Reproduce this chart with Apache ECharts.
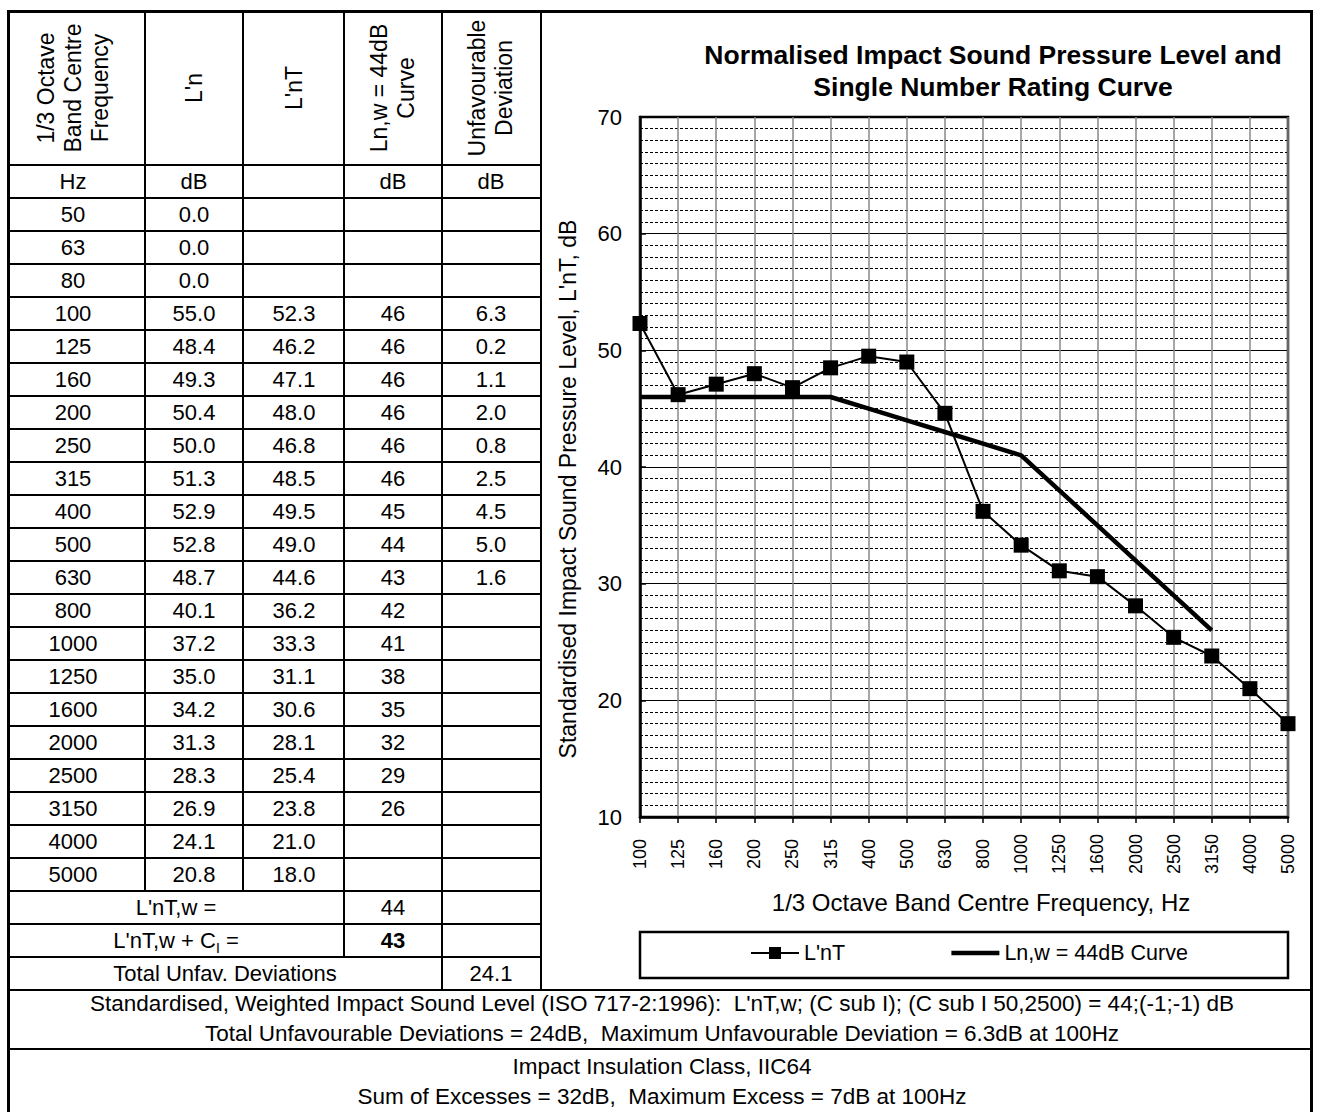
<!DOCTYPE html>
<html>
<head>
<meta charset="utf-8">
<script src="https://cdn.jsdelivr.net/npm/echarts@6/dist/echarts.min.js"></script>
<style>
  html,body{margin:0;padding:0;background:#fff;}
  #page{position:relative;width:1320px;height:1112px;overflow:hidden;background:#fff;font-family:'Liberation Sans',Arial,sans-serif;color:#000;}
  #chart{position:absolute;left:541px;top:11px;width:770px;height:979px;}
  .ln{position:absolute;background:#000;}
  .tx{position:absolute;white-space:pre;font-size:22px;line-height:24px;transform:translate(-50%,-50%);text-align:center;}
  .ft{position:absolute;white-space:pre;font-size:22.5px;line-height:24px;transform:translate(-50%,-50%);text-align:center;}
  .rot{position:absolute;white-space:pre;font-size:23px;line-height:27px;text-align:center;transform:translate(-50%,-50%) rotate(-90deg);}
</style>
</head>
<body>
<div id="page">
  <div id="chart"></div>
</div>
<script>
// ---------------- DATA ----------------
const freqLabels = ['50','63','80','100','125','160','200','250','315','400','500','630','800','1000','1250','1600','2000','2500','3150','4000','5000'];
const lnValues = [0.0,0.0,0.0,55.0,48.4,49.3,50.4,50.0,51.3,52.9,52.8,48.7,40.1,37.2,35.0,34.2,31.3,28.3,26.9,24.1,20.8];
const lntValues = [null,null,null,52.3,46.2,47.1,48.0,46.8,48.5,49.5,49.0,44.6,36.2,33.3,31.1,30.6,28.1,25.4,23.8,21.0,18.0];
const curveValues = [null,null,null,46,46,46,46,46,46,45,44,43,42,41,38,35,32,29,26,null,null];
const deviationValues = [null,null,null,6.3,0.2,1.1,2.0,0.8,2.5,4.5,5.0,1.6,null,null,null,null,null,null,null,null,null];
const headerLabels = ['1/3 Octave\nBand Centre\nFrequency', "L'n", "L'nT", 'Ln,w = 44dB\nCurve', 'Unfavourable\nDeviation'];
const unitLabels = ['Hz','dB','','dB','dB'];
const ratingLnTw = 44;
const ratingLnTwCI = 43;
const totalUnfav = 24.1;
const seriesNames = ["L'nT", 'Ln,w = 44dB Curve'];
const yTicks = [10,20,30,40,50,60,70];
const chartTitle = 'Normalised Impact Sound Pressure Level and\nSingle Number Rating Curve';
const xAxisTitle = '1/3 Octave Band Centre Frequency, Hz';
const yAxisTitle = "Standardised Impact Sound Pressure Level, L'nT, dB";
const footerLines = [
  "Standardised, Weighted Impact Sound Level (ISO 717-2:1996):  L'nT,w; (C sub I); (C sub I 50,2500) = 44;(-1;-1) dB",
  'Total Unfavourable Deviations = 24dB,  Maximum Unfavourable Deviation = 6.3dB at 100Hz',
  'Impact Insulation Class, IIC64',
  'Sum of Excesses = 32dB,  Maximum Excess = 7dB at 100Hz'
];

// ---------------- TABLE (HTML) ----------------
const page = document.getElementById('page');
function hline(x1,x2,y,w){const d=document.createElement('div');d.className='ln';d.style.left=(x1-w/2)+'px';d.style.width=(x2-x1+w)+'px';d.style.top=(y-w/2)+'px';d.style.height=w+'px';page.appendChild(d);}
function vline(x,y1,y2,w){const d=document.createElement('div');d.className='ln';d.style.left=(x-w/2)+'px';d.style.width=w+'px';d.style.top=(y1-w/2)+'px';d.style.height=(y2-y1+w)+'px';page.appendChild(d);}
function txt(s,cx,cy,cls,extra){const d=document.createElement('div');d.className=cls||'tx';d.style.left=cx+'px';d.style.top=cy+'px';if(extra){Object.assign(d.style,extra);}
  if(s instanceof Node){d.appendChild(s);}else{d.textContent=s;} page.appendChild(d);return d;}

const colX = [8,145,243,344,442,541];
const colC = [73,194,294,393,491];
const rightX = 1311, topY = 11, headBot = 165, rowH = 33;
const nData = freqLabels.length;
const rowTop = k => headBot + rowH*k;   // k=0 units row
const endData = rowTop(1+nData);
const endCI = rowTop(3+nData);
const endTot = rowTop(4+nData);         // 990
const footMid = 1049;

for(let k=0;k<=4+nData;k++){ hline(colX[0], colX[5], rowTop(k), 2.5); }
vline(colX[1], topY, endData, 2.5);
vline(colX[2], topY, endData, 2.5);
vline(colX[3], topY, endCI, 2.5);
vline(colX[4], topY, endTot, 2.5);
vline(colX[5], topY, endTot, 2.5);
hline(colX[0], rightX, endTot, 2.5);
hline(colX[0], rightX, footMid, 2.5);
hline(colX[0], rightX, topY, 3);
vline(colX[0], topY, 1130, 3);
vline(rightX, topY, 1130, 3);

headerLabels.forEach((h,i)=>{ txt(h, colC[i], (topY+headBot)/2, 'rot'); });
unitLabels.forEach((u,i)=>{ if(u) txt(u, colC[i], rowTop(0)+rowH/2); });
for(let r=0;r<nData;r++){
  const cy = rowTop(1+r)+rowH/2;
  txt(freqLabels[r], colC[0], cy);
  txt(lnValues[r].toFixed(1), colC[1], cy);
  if(lntValues[r]!==null) txt(lntValues[r].toFixed(1), colC[2], cy);
  if(curveValues[r]!==null) txt(String(curveValues[r]), colC[3], cy);
  if(deviationValues[r]!==null) txt(deviationValues[r].toFixed(1), colC[4], cy);
}
txt("L'nT,w =", (colX[0]+colX[3])/2, rowTop(1+nData)+rowH/2);
txt(String(ratingLnTw), colC[3], rowTop(1+nData)+rowH/2);
const ciSpan = document.createElement('span');
ciSpan.innerHTML = "L'nT,w + C<sub style=\"font-size:14px;vertical-align:-5px;line-height:0\">I</sub> =";
txt(ciSpan, (colX[0]+colX[3])/2, rowTop(2+nData)+rowH/2);
txt(String(ratingLnTwCI), colC[3], rowTop(2+nData)+rowH/2, 'tx', {fontWeight:'bold'});
txt('Total Unfav. Deviations', (colX[0]+colX[4])/2, rowTop(3+nData)+rowH/2);
txt(totalUnfav.toFixed(1), colC[4], rowTop(3+nData)+rowH/2);
const footerY = [1004,1034,1067,1097];
footerLines.forEach((s,i)=>txt(s, 662, footerY[i], 'ft'));

// ---------------- CHART ----------------
const cats = freqLabels.slice(3);
const lntSeries = lntValues.slice(3);
const curveSeries = curveValues.slice(3);
const font = "'Liberation Sans', Arial, sans-serif";

const chart = echarts.init(document.getElementById('chart'), null, {renderer:'svg'});
chart.setOption({
  animation:false,
  backgroundColor:'transparent',
  title:{
    text: chartTitle, left: 452, top: 28, textAlign:'center', padding:0,
    textStyle:{fontFamily:font, fontSize:26.5, fontWeight:'bold', color:'#000', lineHeight:32}
  },
  grid:{left:99, top:106, width:648, height:700, show:true, borderColor:'#000', borderWidth:2.5, backgroundColor:'transparent'},
  legend:{
    data:[
      {name:seriesNames[0]},
      {name:seriesNames[1], itemStyle:{color:'rgba(0,0,0,0)', borderWidth:0}, lineStyle:{color:'#000', width:4.5}}
    ],
    left:209, top:931, padding:0, itemWidth:48, itemHeight:15, itemGap:104,
    textStyle:{fontFamily:font, fontSize:21.5, color:'#000'}
  },
  graphic:[{type:'rect', shape:{x:99, y:921, width:648, height:46}, style:{fill:'none', stroke:'#000', lineWidth:2.5}, silent:true}],
  xAxis:{
    type:'category', data:cats, boundaryGap:false,
    name:xAxisTitle, nameLocation:'middle', nameGap:73,
    nameTextStyle:{fontFamily:font, fontSize:24, color:'#000', padding:[0,0,0,34]},
    axisLine:{show:true, lineStyle:{color:'#000', width:2.5}},
    axisTick:{show:true, interval:0, length:6, lineStyle:{color:'#000', width:1.5}},
    axisLabel:{interval:0, rotate:90, align:'center', verticalAlign:'middle', margin:37, fontFamily:font, fontSize:18, color:'#000'},
    splitLine:{show:true, interval:0, lineStyle:{color:'#888', width:1.5}}
  },
  yAxis:{
    type:'value', min:yTicks[0], max:yTicks[yTicks.length-1], interval:10,
    name:yAxisTitle, nameLocation:'middle', nameGap:61,
    nameTextStyle:{fontFamily:font, fontSize:23, color:'#000', padding:[0,44,0,0]},
    axisLine:{show:true, lineStyle:{color:'#000', width:2.5}},
    axisTick:{show:true, inside:true, length:6, lineStyle:{color:'#000', width:1.5}},
    axisLabel:{margin:18, fontFamily:font, fontSize:22, color:'#000'},
    splitLine:{show:true, lineStyle:{color:'#000', width:1}},
    minorTick:{show:false, splitNumber:10},
    minorSplitLine:{show:true, lineStyle:{color:'#000', width:1, type:[3,2]}}
  },
  series:[
    {name:seriesNames[1], type:'line', data:curveSeries, symbol:'none', z:2,
     lineStyle:{color:'#000', width:4.5}, itemStyle:{color:'#000'}},
    {name:seriesNames[0], type:'line', data:lntSeries, symbol:'rect', symbolSize:15, z:3,
     lineStyle:{color:'#000', width:2}, itemStyle:{color:'#000'}}
  ]
});
</script>
</body>
</html>
